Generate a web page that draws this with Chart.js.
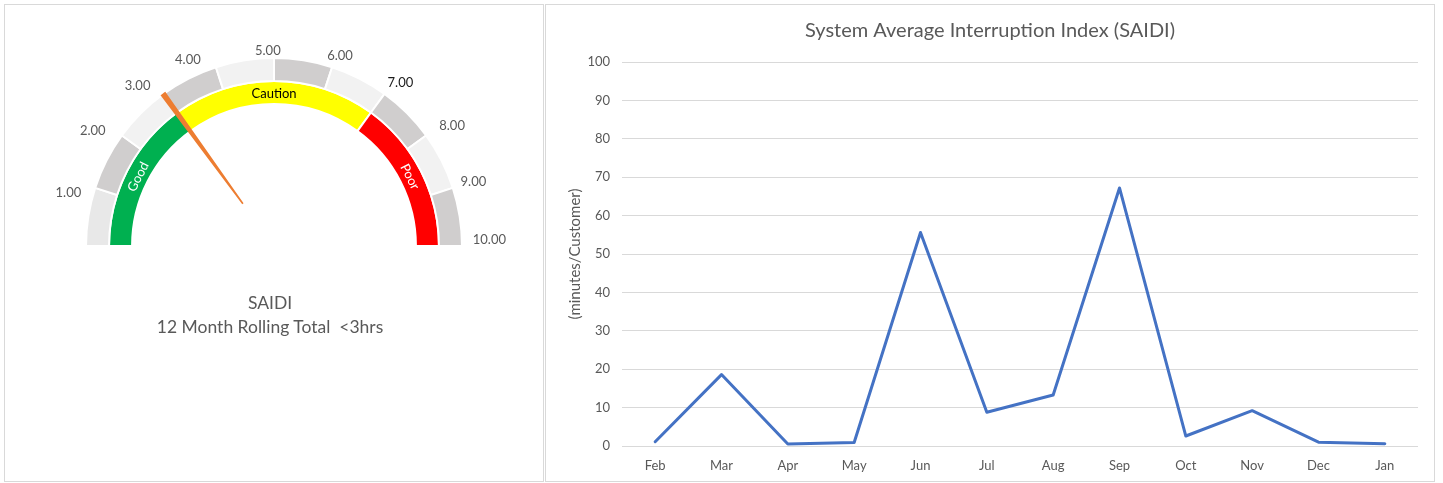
<!DOCTYPE html>
<html>
<head>
<meta charset="utf-8">
<title>SAIDI dashboard</title>
<script src="https://cdn.jsdelivr.net/npm/chart.js@4.4.1/dist/chart.umd.min.js"></script>
<style>
  html, body { margin: 0; padding: 0; background: #fff; width: 1443px; height: 483px; overflow: hidden; font-family: Lato, sans-serif; }
  .panel { position: absolute; border: 1px solid #d9d9d9; box-sizing: border-box; background: #fff; }
  #leftPanel { left: 4px; top: 4px; width: 540px; height: 478px; }
  #rightPanel { left: 545px; top: 4px; width: 890px; height: 478px; }
  canvas { position: absolute; }
  .gaugeCaption { position: absolute; left: 0; width: 540px; text-align: center; color: #595959; font-size: 17.5px; line-height: 22px; white-space: pre; }
</style>
</head>
<body>
<div class="panel" id="leftPanel"></div>
<div class="panel" id="rightPanel"></div>
<canvas id="gauge" width="545" height="483" style="left:0;top:0"></canvas>
<canvas id="needle" width="545" height="483" style="left:0;top:0"></canvas>
<div class="gaugeCaption" style="left:0;top:292px">SAIDI</div>
<div class="gaugeCaption" style="left:0;top:316px">12 Month Rolling Total  &lt;3hrs</div>
<canvas id="trend" width="890" height="478" style="left:545px;top:4px"></canvas>

<script>
// ---- Gauge data ----
const gaugeTickLabels = ['1.00', '2.00', '3.00', '4.00', '5.00', '6.00', '7.00', '8.00', '9.00', '10.00'];
const gaugeBands = [1, 1, 1, 1, 1, 1, 1, 1, 1, 1];
const zoneNames = ['Good', 'Caution', 'Poor'];
const zoneValues = [3, 4, 3];
const gaugeMax = 10;
const needleValue = 3.0;

// ---- Trend data ----
const months = ['Feb', 'Mar', 'Apr', 'May', 'Jun', 'Jul', 'Aug', 'Sep', 'Oct', 'Nov', 'Dec', 'Jan'];
const saidiMinutes = [1.1, 18.6, 0.5, 0.9, 55.6, 8.8, 13.3, 67.2, 2.6, 9.2, 1.0, 0.6];
const yAxisMin = 0;
const yAxisMax = 100;
const yAxisStep = 10;

const FONT = 'Lato';
const TEXT = '#595959';

// Outer scale ring alternates grey shades; the first band is a touch lighter.
const bandColors = gaugeBands.map((_, i) => i === 0 ? '#e8e8e8' : (i % 2 === 1 ? '#d0cece' : '#f2f2f2'));
const zoneColors = ['#00b050', '#ffff00', '#ff0000'];
const zoneTextColors = ['#ffffff', '#000000', '#ffffff'];
const tickTextColors = gaugeTickLabels.map(t => t === '7.00' ? '#1a1a1a' : TEXT);
// Per-label placement tweaks for the scale values: angular nudge (deg) and gap from the ring (px).
const tickNudgeDeg = [-3.4, -3.5, -4.5, -6.8, -1.8, 1.1, 1.7, 2.0, 0.1, -1.6];
const tickGapPx = [9, 12, 9, 7, 2.5, 4.6, 6, 12, 6, 8.7];

const gaugeLayout = { padding: { left: 86, right: 83, top: 58, bottom: 237 } };

const gaugeText = {
  id: 'gaugeText',
  afterDatasetsDraw(chart) {
    const ctx = chart.ctx;
    ctx.save();
    // tick values around the outer ring, at each band's end
    ctx.font = '13px ' + FONT;
    ctx.textAlign = 'center';
    ctx.textBaseline = 'middle';
    chart.getDatasetMeta(0).data.forEach((arc, i) => {
      const p = arc.getProps(['x', 'y', 'endAngle', 'outerRadius'], true);
      const a = p.endAngle + tickNudgeDeg[i] * Math.PI / 180;
      const hw = ctx.measureText(gaugeTickLabels[i]).width / 2 + 2;
      const hh = 4.5;
      const r = p.outerRadius + tickGapPx[i] + hw * Math.abs(Math.cos(a)) + hh * Math.abs(Math.sin(a));
      ctx.fillStyle = tickTextColors[i];
      ctx.fillText(gaugeTickLabels[i], p.x + r * Math.cos(a), p.y + r * Math.sin(a));
    });
    // zone names following the inner ring
    ctx.font = '13px ' + FONT;
    chart.getDatasetMeta(1).data.forEach((arc, i) => {
      const p = arc.getProps(['x', 'y', 'startAngle', 'endAngle', 'innerRadius', 'outerRadius'], true);
      const mid = (p.startAngle + p.endAngle) / 2;
      const r = (p.innerRadius + p.outerRadius) / 2;
      ctx.save();
      ctx.translate(p.x + r * Math.cos(mid), p.y + r * Math.sin(mid));
      ctx.rotate(mid + Math.PI / 2);
      ctx.fillStyle = zoneTextColors[i];
      ctx.fillText(zoneNames[i], 0, 1);
      ctx.restore();
    });
    ctx.restore();
  }
};

function draw() {
  new Chart(document.getElementById('gauge'), {
    type: 'doughnut',
    data: {
      labels: gaugeTickLabels,
      datasets: [
        { data: gaugeBands, backgroundColor: bandColors, borderColor: '#ffffff', borderWidth: 2 },
        { data: zoneValues, backgroundColor: zoneColors, borderColor: '#ffffff', borderWidth: 2 }
      ]
    },
    options: {
      responsive: false,
      animation: false,
      devicePixelRatio: 1,
      rotation: -90,
      circumference: 180,
      radius: 188,
      cutout: '75.5%',
      layout: gaugeLayout,
      events: [],
      plugins: { legend: { display: false }, tooltip: { enabled: false } }
    },
    plugins: [gaugeText]
  });

  const needleWidth = 0.1;
  new Chart(document.getElementById('needle'), {
    type: 'pie',
    data: {
      datasets: [{
        data: [needleValue - needleWidth / 2, needleWidth, gaugeMax - needleValue - needleWidth / 2],
        backgroundColor: ['rgba(0,0,0,0)', '#ed7d31', 'rgba(0,0,0,0)'],
        borderWidth: 0
      }]
    },
    options: {
      responsive: false,
      animation: false,
      devicePixelRatio: 1,
      rotation: -90,
      circumference: 180,
      radius: 189,
      cutout: '28%',
      layout: gaugeLayout,
      events: [],
      plugins: { legend: { display: false }, tooltip: { enabled: false } }
    }
  });

  new Chart(document.getElementById('trend'), {
    type: 'line',
    data: {
      labels: months,
      datasets: [{
        data: saidiMinutes,
        borderColor: '#4472c4',
        backgroundColor: '#4472c4',
        borderWidth: 3,
        pointRadius: 0,
        tension: 0,
        borderJoinStyle: 'round',
        borderCapStyle: 'round',
        fill: false
      }]
    },
    options: {
      responsive: false,
      animation: false,
      devicePixelRatio: 1,
      events: [],
      layout: { padding: { left: 17, right: 17, top: 0, bottom: 0 } },
      plugins: {
        legend: { display: false },
        tooltip: { enabled: false },
        title: {
          display: true,
          text: 'System Average Interruption Index (SAIDI)',
          color: TEXT,
          font: { family: FONT, size: 20, weight: 'normal', lineHeight: 1.2 },
          padding: { top: 15, bottom: 19 }
        }
      },
      scales: {
        x: {
          offset: true,
          grid: { display: false, drawTicks: false },
          border: { display: false },
          ticks: { color: TEXT, font: { family: FONT, size: 13 }, padding: 12, maxRotation: 0, autoSkip: false },
          afterFit(scale) { scale.height = 36; }
        },
        y: {
          min: yAxisMin,
          max: yAxisMax,
          ticks: { stepSize: yAxisStep, color: TEXT, font: { family: FONT, size: 13 }, padding: 12 },
          grid: { color: '#d9d9d9', lineWidth: 1, drawTicks: false },
          border: { display: false },
          title: {
            display: true,
            text: '(minutes/Customer)',
            color: TEXT,
            font: { family: FONT, size: 15, lineHeight: 1.2 },
            padding: { top: 4, bottom: 0 }
          },
          afterFit(scale) { scale.width = 60; }
        }
      }
    }
  });
}

const ready = document.fonts && document.fonts.load
  ? Promise.all([document.fonts.load('13px Lato'), document.fonts.load('20px Lato')]).catch(() => {})
  : Promise.resolve();
ready.then(draw, draw);
</script>
</body>
</html>
